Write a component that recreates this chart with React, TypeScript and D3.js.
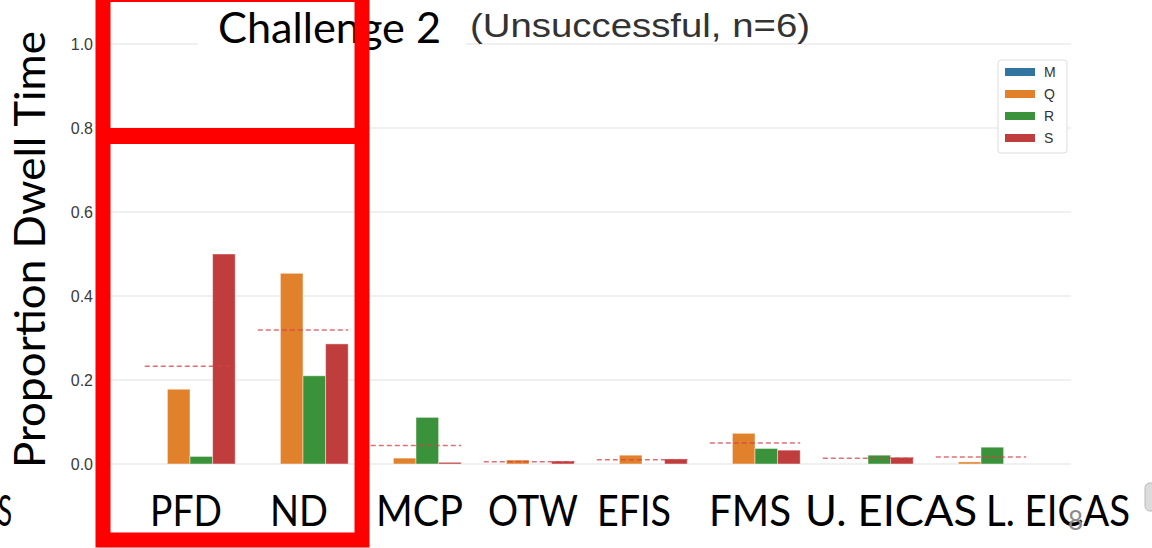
import React, { useRef, useEffect } from 'react';
import * as d3 from 'd3';

// categories on the x axis and the hue levels
const categories = ['PFD', 'ND', 'MCP', 'OTW', 'EFIS', 'FMS', 'U. EICAS', 'L. EICAS'];
const hues = ['M', 'Q', 'R', 'S'];

// proportion dwell time per hue level
const valuesM = [0, 0, 0, 0, 0, 0, 0, 0];
const valuesQ = [0.178, 0.454, 0.014, 0.0095, 0.021, 0.073, 0, 0.005];
const valuesR = [0.018, 0.21, 0.111, 0, 0, 0.037, 0.021, 0.04];
const valuesS = [0.5, 0.286, 0.004, 0.007, 0.012, 0.033, 0.016, 0];

// red dashed mean line per category
const meanValues = [0.233, 0.319, 0.044, 0.0056, 0.0103, 0.05, 0.0135, 0.0167];

const yTicks = [0, 0.2, 0.4, 0.6, 0.8, 1.0];

// slide text underneath the plot
const slideLabels = ['S', 'PFD', 'ND', 'MCP', 'OTW', 'EFIS', 'FMS', 'U. EICAS', 'L. EICAS'];

const hueColors = ['#3274a1', '#e1812c', '#3a923a', '#c03d3e'];

const W = 1152;
const H = 548;

const App = () => {
  const svgRef = useRef<SVGSVGElement | null>(null);

  useEffect(() => {
    const svg = d3.select(svgRef.current);
    svg.selectAll('*').remove();

    svg.append('rect').attr('width', W).attr('height', H).attr('fill', '#ffffff');

    // plot frame
    const plotLeft = 100;
    const plotRight = 1071;

    const x = d3.scaleBand<string>().domain(categories).range([133.5, 1037.5]);
    const groupW = x.bandwidth() * 0.8;
    const xHue = d3.scaleBand<string>().domain(hues).range([0, groupW]);
    const y = d3.scaleLinear().domain([0, 1]).range([464, 44]);

    // grid
    svg.append('g')
      .selectAll('line')
      .data(yTicks)
      .join('line')
      .attr('x1', plotLeft)
      .attr('x2', plotRight)
      .attr('y1', d => y(d))
      .attr('y2', d => y(d))
      .attr('stroke', '#e2e2e2')
      .attr('stroke-width', 1.2);

    svg.append('g')
      .selectAll('text')
      .data(yTicks)
      .join('text')
      .attr('x', 93)
      .attr('y', d => y(d))
      .attr('dy', '0.36em')
      .attr('text-anchor', 'end')
      .attr('font-family', '"Liberation Sans", Arial, sans-serif')
      .attr('font-size', 16)
      .attr('fill', '#3a3a3a')
      .text(d => d.toFixed(1));

    // bars
    const series = [valuesM, valuesQ, valuesR, valuesS];
    series.forEach((vals, hi) => {
      const hue = hues[hi];
      svg.append('g')
        .selectAll('rect')
        .data(vals.map((v, i) => ({ cat: categories[i], v })).filter(d => d.v > 0))
        .join('rect')
        .attr('x', d => (x(d.cat) as number) + x.bandwidth() * 0.1 + (xHue(hue) as number))
        .attr('width', xHue.bandwidth())
        .attr('y', d => y(d.v))
        .attr('height', d => y(0) - y(d.v))
        .attr('fill', hueColors[hi])
        .attr('stroke', '#ffffff')
        .attr('stroke-opacity', 0.45)
        .attr('stroke-width', 1);
    });

    // mean lines
    svg.append('g')
      .selectAll('line')
      .data(meanValues.map((v, i) => ({ cat: categories[i], v })))
      .join('line')
      .attr('x1', d => (x(d.cat) as number) + x.bandwidth() * 0.1)
      .attr('x2', d => (x(d.cat) as number) + x.bandwidth() * 0.1 + groupW)
      .attr('y1', d => y(d.v))
      .attr('y2', d => y(d.v))
      .attr('stroke', '#d2404a')
      .attr('stroke-opacity', 0.75)
      .attr('stroke-width', 1.5)
      .attr('stroke-dasharray', '5,3');

    // legend
    const lg = svg.append('g').attr('transform', 'translate(998,60)');
    lg.append('rect')
      .attr('width', 69)
      .attr('height', 93)
      .attr('rx', 3)
      .attr('fill', '#ffffff')
      .attr('stroke', '#dddddd');
    hues.forEach((h, i) => {
      lg.append('rect')
        .attr('x', 7)
        .attr('y', 12 + i * 22 - 4)
        .attr('width', 30)
        .attr('height', 8)
        .attr('fill', hueColors[i]);
      lg.append('text')
        .attr('x', 46)
        .attr('y', 12 + i * 22)
        .attr('dy', '0.36em')
        .attr('font-family', '"Liberation Sans", Arial, sans-serif')
        .attr('font-size', 14)
        .attr('fill', '#333333')
        .text(h);
    });

    // title
    svg.append('rect')
      .attr('x', 198)
      .attr('y', 4)
      .attr('width', 268)
      .attr('height', 54)
      .attr('fill', '#ffffff');
    svg.append('text')
      .attr('x', 218)
      .attr('y', 43)
      .attr('font-family', 'Lato, "Open Sans", sans-serif')
      .attr('font-size', 42)
      .attr('fill', '#000000')
      .attr('textLength', 223)
      .attr('lengthAdjust', 'spacingAndGlyphs')
      .text('Challenge 2');
    svg.append('text')
      .attr('x', 470)
      .attr('y', 37)
      .attr('font-family', '"Liberation Sans", Arial, sans-serif')
      .attr('font-size', 33)
      .attr('fill', '#333333')
      .attr('textLength', 340)
      .attr('lengthAdjust', 'spacingAndGlyphs')
      .text('(Unsuccessful, n=6)');

    // y axis title
    svg.append('text')
      .attr('transform', 'translate(45,468) rotate(-90)')
      .attr('font-family', 'Lato, "Open Sans", sans-serif')
      .attr('font-size', 42)
      .attr('fill', '#000000')
      .attr('textLength', 437)
      .attr('lengthAdjust', 'spacingAndGlyphs')
      .text('Proportion Dwell Time');

    // slide labels below the plot
    const labelStart = [-2, 150, 270, 376, 488, 597, 709, 805, 986];
    const labelWidth = [14, 72, 58, 87, 90, 74, 82, 172, 144];
    svg.append('g')
      .selectAll('text')
      .data(slideLabels)
      .join('text')
      .attr('x', (d, i) => labelStart[i])
      .attr('y', 526)
      .attr('font-family', 'Lato, "Open Sans", sans-serif')
      .attr('font-size', 42)
      .attr('fill', '#000000')
      .attr('textLength', (d, i) => labelWidth[i])
      .attr('lengthAdjust', 'spacingAndGlyphs')
      .text(d => d);

    // page number
    svg.append('text')
      .attr('x', 1068)
      .attr('y', 530)
      .attr('font-family', 'Lato, "Open Sans", sans-serif')
      .attr('font-size', 26)
      .attr('fill', '#8a8a8a')
      .text('8');

    svg.append('rect')
      .attr('x', 1145)
      .attr('y', 483)
      .attr('width', 20)
      .attr('height', 28)
      .attr('rx', 5)
      .attr('fill', '#dcdcdc')
      .attr('stroke', '#b8b8b8');

    // red highlight frame
    svg.append('rect')
      .attr('x', 103)
      .attr('y', -5.5)
      .attr('width', 259)
      .attr('height', 545.5)
      .attr('fill', 'none')
      .attr('stroke', '#ff0000')
      .attr('stroke-width', 15);
    svg.append('line')
      .attr('x1', 103)
      .attr('x2', 362)
      .attr('y1', 136)
      .attr('y2', 136)
      .attr('stroke', '#ff0000')
      .attr('stroke-width', 16);
  }, []);

  return (
    <svg
      ref={svgRef}
      width={W}
      height={H}
      style={{ position: 'absolute', left: 0, top: 0, display: 'block' }}
    />
  );
};

export default App;
